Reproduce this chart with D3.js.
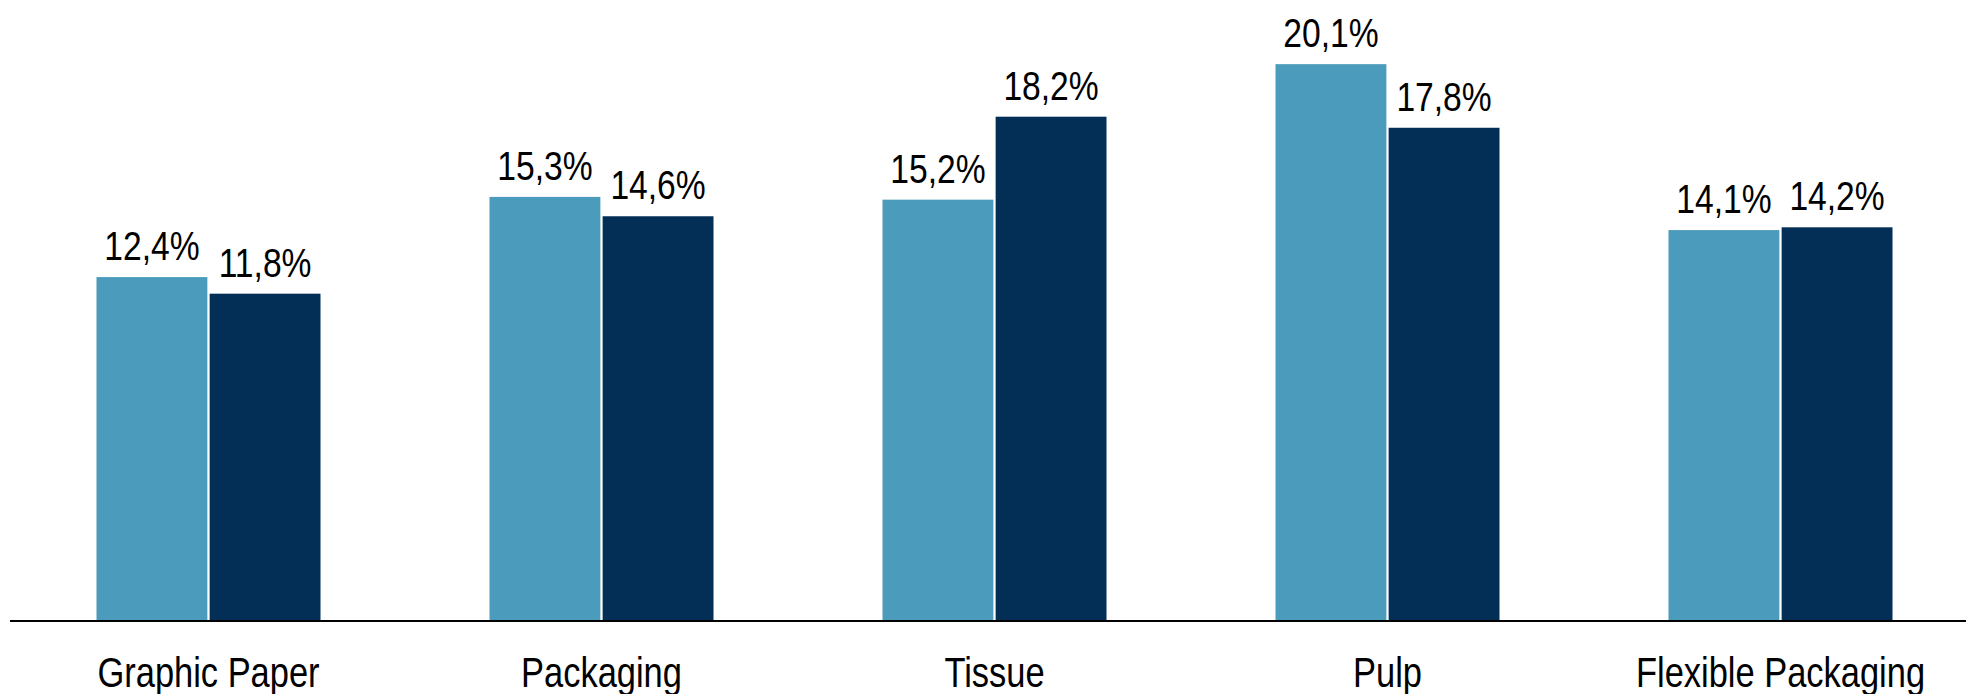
<!DOCTYPE html>
<html>
<head>
<meta charset="utf-8">
<script src="https://cdn.jsdelivr.net/npm/d3@7"></script>
<style>
  html, body { margin: 0; padding: 0; background: #fff; }
  svg { display: block; }
  text { font-family: "Liberation Sans Narrow", "Arial Narrow", "Liberation Sans", Arial, sans-serif; fill: #000; }
</style>
</head>
<body>
<div id="canvas"><svg width="1966" height="694"></svg></div>
<script>
// chart data
const categories = ["Graphic Paper", "Packaging", "Tissue", "Pulp", "Flexible Packaging"];
const seriesNames = ["prev", "curr"];
const prevValues = [12.4, 15.3, 15.2, 20.1, 14.1];
const currValues = [11.8, 14.6, 18.2, 17.8, 14.2];
const colors = ["#4B9BBC", "#032E55"];

const svg = d3.select("#canvas").select("svg");
const width = parseInt(svg.attr("width"), 10);
const baseY = 620;

const rows = categories.map((c, i) => ({
    cat: c,
    vals: [prevValues[i], currValues[i]]
}));

const x0 = d3.scaleBand()
    .domain(categories)
    .range([12, 1977])
    .paddingInner(0.43)
    .paddingOuter(0.215);

const x1 = d3.scaleBand()
    .domain(seriesNames)
    .range([0, x0.bandwidth()])
    .paddingInner(0.02);

const y = d3.scaleLinear().domain([0, 22.42]).range([baseY, 0]);

const fmt = v => d3.format(".1f")(v).replace(".", ",") + "%";

// no narrow font installed, so squeeze the regular one (Arial Narrow look)
function narrow(sel) {
    sel.each(function () {
        const w = this.getComputedTextLength();
        d3.select(this)
            .attr("textLength", w * 0.82)
            .attr("lengthAdjust", "spacingAndGlyphs");
    });
}

const groups = svg.append("g")
    .selectAll("g.group")
    .data(rows)
    .join("g")
    .attr("class", "group")
    .attr("transform", d => `translate(${x0(d.cat)},0)`);

const cells = groups.selectAll("g.cell")
    .data(d => d.vals.map((v, k) => ({ key: seriesNames[k], value: v, k: k })))
    .join("g")
    .attr("class", "cell");

cells.append("rect")
    .attr("x", d => x1(d.key))
    .attr("y", d => y(d.value))
    .attr("width", x1.bandwidth())
    .attr("height", d => y(0) - y(d.value))
    .style("fill", d => colors[d.k]);

cells.append("text")
    .attr("x", d => x1(d.key) + x1.bandwidth() / 2)
    .attr("y", d => y(d.value) - 17)
    .attr("text-anchor", "middle")
    .style("font-size", "41px")
    .text(d => fmt(d.value))
    .call(narrow);

// baseline
svg.append("line")
    .attr("x1", 10)
    .attr("x2", width)
    .attr("y1", baseY + 1)
    .attr("y2", baseY + 1)
    .attr("stroke", "#000")
    .attr("stroke-width", 2);

// category labels
const xAxis = svg.append("g")
    .attr("transform", `translate(0,${baseY})`)
    .call(d3.axisBottom(x0).tickSize(0).tickPadding(0));
xAxis.select(".domain").remove();
xAxis.attr("font-family", null).attr("font-size", null);
xAxis.selectAll("text")
    .attr("y", 67)
    .attr("dy", null)
    .style("font-size", "42px")
    .attr("fill", "#000")
    .call(narrow);
</script>
</body>
</html>
